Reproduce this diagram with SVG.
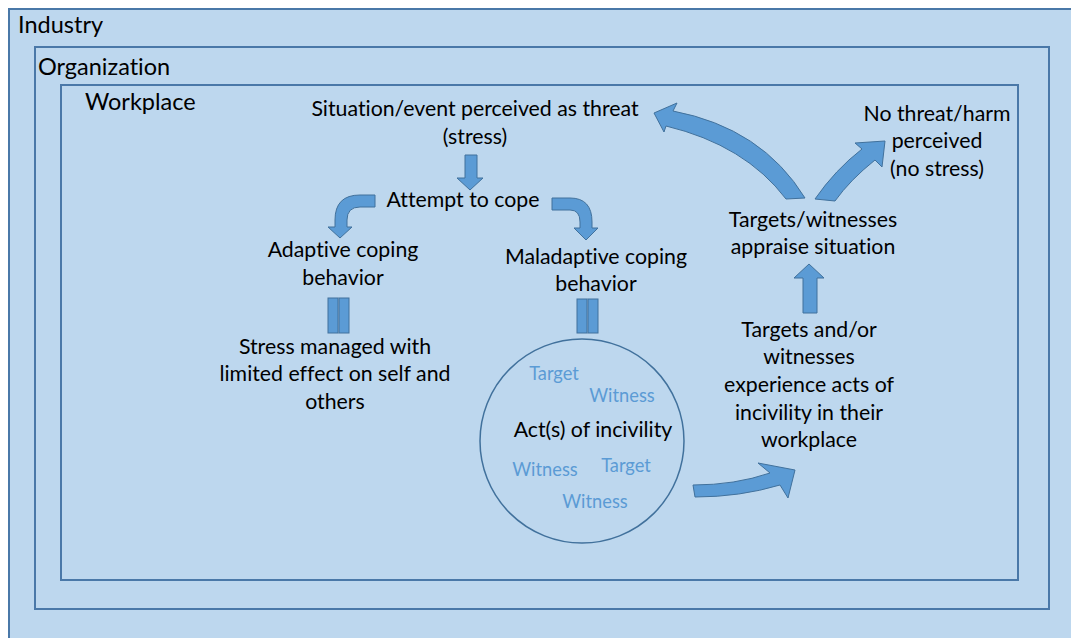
<svg xmlns="http://www.w3.org/2000/svg" width="1071" height="638" viewBox="0 0 1071 638">
<style>
.box{fill:#BDD7EE;stroke:#4A78A8;stroke-width:2}
.arr{fill:#5B9BD5;stroke:#41719C;stroke-width:1}
text{font-family:Lato,"Open Sans",sans-serif;font-size:21.3px;fill:#000;font-variant-ligatures:none}
.c{text-anchor:middle}
.h{font-size:23.5px}
.lt{fill:#5B9BD5;font-size:18.3px;text-anchor:middle}
</style>
<rect width="1071" height="638" fill="#fff"/>
<g id="industry"><rect class="box" x="9" y="9" width="1080" height="650"/><text class="h" x="18" y="33">Industry</text></g>
<g id="organization"><rect class="box" x="35" y="47" width="1014" height="562"/><text class="h" x="38" y="75">Organization</text></g>
<g id="workplace"><rect class="box" x="61" y="85" width="957" height="495"/><text class="h" x="85" y="110">Workplace</text></g>
<g id="threat"><text class="c" x="475" y="116">Situation/event perceived as threat</text><text class="c" x="475" y="144">(stress)</text></g>
<g id="cope"><text class="c" x="463" y="207">Attempt to cope</text></g>
<g id="adaptive"><text class="c" x="343" y="257">Adaptive coping</text><text class="c" x="343" y="285">behavior</text></g>
<g id="maladaptive"><text class="c" x="596" y="264">Maladaptive coping</text><text class="c" x="596" y="291">behavior</text></g>
<g id="managed"><text class="c" x="335" y="354">Stress managed with</text><text class="c" x="335" y="381">limited effect on self and</text><text class="c" x="335" y="409">others</text></g>
<g id="incivility"><circle cx="582" cy="441" r="102" fill="none" stroke="#41719C" stroke-width="1.5"/><text class="c" x="593" y="437">Act(s) of incivility</text><text class="lt" x="554" y="380">Target</text><text class="lt" x="622" y="402">Witness</text><text class="lt" x="545" y="476">Witness</text><text class="lt" x="626" y="472">Target</text><text class="lt" x="595" y="508">Witness</text></g>
<g id="experience"><text class="c" x="809" y="337">Targets and/or</text><text class="c" x="809" y="364">witnesses</text><text class="c" x="809" y="392">experience acts of</text><text class="c" x="809" y="420">incivility in their</text><text class="c" x="809" y="447">workplace</text></g>
<g id="appraise"><text class="c" x="813" y="227">Targets/witnesses</text><text class="c" x="813" y="254">appraise situation</text></g>
<g id="nothreat"><text class="c" x="937" y="121">No threat/harm</text><text class="c" x="937" y="148">perceived</text><text class="c" x="937" y="176">(no stress)</text></g>
<g id="connectors">
<path class="arr" d="M465,155 L477,155 L477,178 L483,178 L470,190 L457,178 L465,178 Z"/>
<path class="arr" d="M375,195 L360,195 Q335,195 335,220 L335,227 L328,227 L340,238 L352,227 L347,227 L347,220 Q347,207 360,207 L375,207 Z"/>
<path class="arr" d="M552,198 L570,198 Q592,198 592,222 L592,228 L598,228 L586,240 L574,228 L580,228 L580,222 Q580,210 570,210 L552,210 Z"/>
<rect class="arr" x="328" y="298" width="10" height="35"/><rect class="arr" x="339" y="298" width="10" height="35"/>
<rect class="arr" x="577" y="299" width="10" height="34"/><rect class="arr" x="588" y="299" width="10" height="34"/>
<path class="arr" d="M693,485 Q735,485 770,473 L758,463 L795,470 L788,498 L780,485 Q740,497 695,497 Z"/>
<path class="arr" d="M803,313 L817,313 L817,278 L824,278 L809,264 L794,278 L803,278 Z"/>
<path class="arr" d="M805,198 Q762,128 673,111 L677,103 L654,113 L664,132 L666,126 Q745,145 786,199 Z"/>
<path class="arr" d="M815,199 Q835,170 862,149 L855,143 L885,141 L882,167 L875,160 Q850,180 835,201 Z"/>
</g>
</svg>
